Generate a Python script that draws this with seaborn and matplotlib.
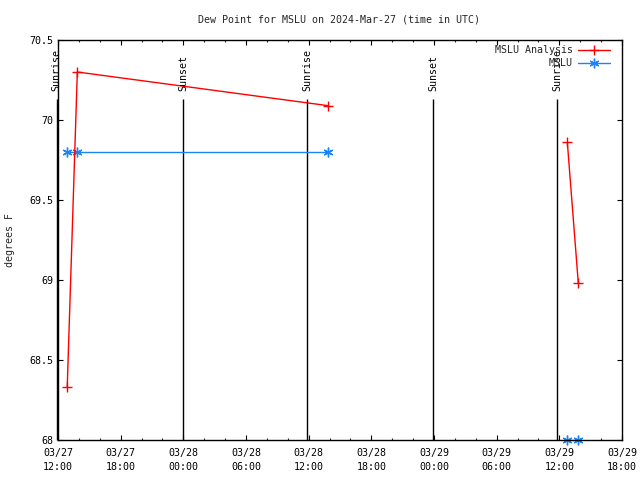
import matplotlib
matplotlib.use("Agg")
import matplotlib.pyplot as plt
import matplotlib.dates as mdates
from matplotlib.lines import Line2D
import seaborn as sns
import pandas as pd

# ---- data ----
times = ["2024-03-27 12:53", "2024-03-27 13:51", "2024-03-28 13:49",
         "2024-03-29 12:46", "2024-03-29 13:49"]
segment = [0, 0, 0, 1, 1]
analysis_values = [68.33, 70.30, 70.09, 69.86, 68.98]
mslu_values = [69.8, 69.8, 69.8, 68.0, 68.0]

sun_times = ["2024-03-27 11:53", "2024-03-27 23:58", "2024-03-28 11:50",
             "2024-03-28 23:54", "2024-03-29 11:47"]
sun_labels = ["Sunrise", "Sunset", "Sunrise", "Sunset", "Sunrise"]

x_start, x_end = "2024-03-27 12:00", "2024-03-29 18:00"
y_ticks = [68, 68.5, 69, 69.5, 70, 70.5]
y_tick_labels = ["68", "68.5", "69", "69.5", "70", "70.5"]
title = "Dew Point for MSLU on 2024-Mar-27 (time in UTC)"
series_names = ["MSLU Analysis", "MSLU"]

sns.set_style("ticks")
plt.rcParams["font.family"] = ["DejaVu Sans Mono", "DejaVu Sans"]
plt.rcParams["font.size"] = 7.2

df_a = pd.DataFrame({"time": pd.to_datetime(times), "value": analysis_values, "seg": segment})
df_m = pd.DataFrame({"time": pd.to_datetime(times), "value": mslu_values, "seg": segment})

fig = plt.figure(figsize=(6.4, 4.8), dpi=100)
ax = fig.add_axes([58 / 640, 1 - 440 / 480, 564 / 640, 400 / 480])

red = "#ff0000"
blue = "#1a84ff"

sns.lineplot(data=df_m, x="time", y="value", units="seg", estimator=None, ax=ax,
             color=blue, marker=(6, 2, 0), markersize=7, markeredgewidth=1.0,
             markeredgecolor=blue, linewidth=1.0, legend=False, clip_on=False, zorder=2)
sns.lineplot(data=df_a, x="time", y="value", units="seg", estimator=None, ax=ax,
             color=red, marker="+", markersize=7, markeredgewidth=1.0,
             markeredgecolor=red, linewidth=1.0, legend=False, clip_on=False, zorder=2)

# sunrise / sunset markers
st = pd.to_datetime(sun_times)
ax.vlines(st, 68, 70.13, color="black", linewidth=1.0, clip_on=False, zorder=1)
for t, lab in zip(st, sun_labels):
    ax.text(t, 70.18, lab, rotation=90, ha="center", va="bottom", fontsize=7.2,
            color="black", clip_on=False)

ax.set_xlim(pd.Timestamp(x_start), pd.Timestamp(x_end))
ax.set_ylim(68, 70.5)
ax.set_yticks(y_ticks)
ax.set_yticklabels(y_tick_labels)
ax.xaxis.set_major_locator(mdates.HourLocator(byhour=[0, 6, 12, 18]))
ax.xaxis.set_minor_locator(mdates.HourLocator(byhour=range(0, 24, 2)))
ax.xaxis.set_major_formatter(mdates.DateFormatter("%m/%d\n%H:%M"))
ax.tick_params(which="major", direction="in", length=3.4, width=0.8,
               top=True, right=True, labelsize=7.2, colors="black")
ax.tick_params(axis="x", which="major", pad=6)
ax.tick_params(which="minor", direction="in", length=1.7, width=0.8,
               top=True, right=True)
ax.tick_params(axis="y", which="minor", left=False, right=False)
for lbl in ax.get_xticklabels():
    lbl.set_linespacing(1.45)
ax.set_xlabel("")
ax.set_ylabel("")
for sp in ax.spines.values():
    sp.set_visible(True)
    sp.set_linewidth(1.0)
    sp.set_color("black")
    sp.set_zorder(3)

fig.text(10 / 640, 0.5, "degrees F", rotation=90, ha="center", va="center", fontsize=7.2)
fig.text(339 / 640, 1 - 19 / 480, title, ha="center", va="center", fontsize=7.2)

handles = [
    Line2D([], [], color=red, marker="+", markersize=7, markeredgewidth=1.0, linewidth=1.0),
    Line2D([], [], color=blue, marker=(6, 2, 0), markersize=7, markeredgewidth=1.0, linewidth=1.0),
]
ax.legend(handles, series_names, loc="upper right", bbox_to_anchor=(612 / 640, 1 - 43 / 480),
          bbox_transform=fig.transFigure, frameon=False, markerfirst=False,
          handlelength=3.2, handletextpad=0.5, labelspacing=0.35, borderpad=0.2,
          borderaxespad=0.0, fontsize=7.2)

fig.savefig("out.png", dpi=100)
